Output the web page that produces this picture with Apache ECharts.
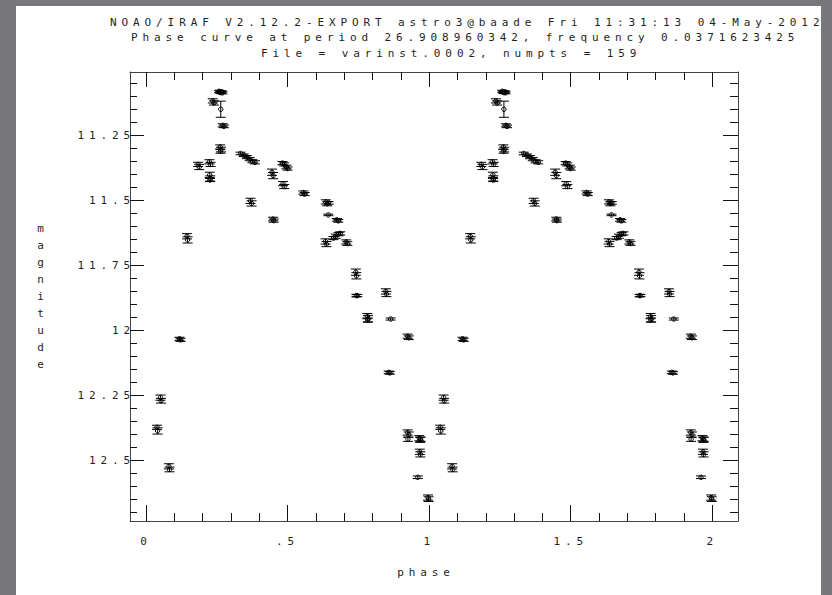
<!DOCTYPE html>
<html>
<head>
<meta charset="utf-8">
<script src="https://cdn.jsdelivr.net/npm/echarts@6/dist/echarts.min.js"></script>
<style>
  html, body { margin: 0; padding: 0; background: #78777b; }
  #paper { position: absolute; left: 16px; top: 6px; width: 805px; height: 589px; background: #ffffff; }
  #chart { position: absolute; left: 0; top: 0; width: 832px; height: 595px; }
  #chart svg text { letter-spacing: 4.9px; }
</style>
</head>
<body>
<div id="paper"></div>
<div id="chart"></div>
<script>
// ---- data: one cycle of the phase curve (phase, magnitude, error) ----
const phase = [
  0.258, 0.261, 0.264, 0.267, 0.270,
  0.236, 0.240,
  0.264,
  0.271, 0.275,
  0.262, 0.265, 0.263,
  0.184, 0.188,
  0.224, 0.228,
  0.225, 0.227, 0.226,
  0.334, 0.345, 0.356, 0.366, 0.376, 0.385,
  0.445, 0.449,
  0.482, 0.488, 0.496, 0.500,
  0.484, 0.488,
  0.369, 0.373,
  0.449, 0.451,
  0.145, 0.147,
  0.118, 0.122,
  0.051, 0.053,
  0.039, 0.041,
  0.081, 0.083,
  0.556, 0.560,
  0.635, 0.640, 0.645,
  0.644,
  0.674, 0.679,
  0.634, 0.637,
  0.662, 0.670, 0.680, 0.686,
  0.707, 0.711,
  0.741, 0.743,
  0.743, 0.746,
  0.847, 0.849,
  0.782, 0.784, 0.783,
  0.864,
  0.924, 0.928,
  0.857, 0.861,
  0.924, 0.928, 0.925,
  0.965, 0.970, 0.968,
  0.967, 0.969,
  0.960,
  0.996, 0.998
];
const mag = [
  11.081, 11.084, 11.086, 11.083, 11.087,
  11.118, 11.126,
  11.150,
  11.212, 11.216,
  11.295, 11.305, 11.312,
  11.362, 11.372,
  11.352, 11.362,
  11.402, 11.416, 11.422,
  11.320, 11.327, 11.334, 11.342, 11.350, 11.354,
  11.392, 11.405,
  11.357, 11.362, 11.372, 11.378,
  11.436, 11.447,
  11.502, 11.512,
  11.572, 11.578,
  11.638, 11.652,
  12.032, 12.036,
  12.258, 12.270,
  12.372, 12.386,
  12.522, 12.534,
  11.470, 11.476,
  11.506, 11.513, 11.510,
  11.556,
  11.575, 11.579,
  11.658, 11.668,
  11.645, 11.638, 11.630, 11.627,
  11.660, 11.666,
  11.776, 11.790,
  11.866, 11.866,
  11.850, 11.860,
  11.945, 11.955, 11.960,
  11.956,
  12.022, 12.028,
  12.161, 12.163,
  12.392, 12.400, 12.418,
  12.414, 12.418, 12.420,
  12.466, 12.476,
  12.564,
  12.642, 12.648
];
const magErr = [
  0.004, 0.004, 0.004, 0.004, 0.004,
  0.008, 0.008,
  0.031,
  0.006, 0.005,
  0.008, 0.009, 0.007,
  0.008, 0.010,
  0.008, 0.008,
  0.010, 0.010, 0.006,
  0.005, 0.005, 0.006, 0.006, 0.006, 0.006,
  0.012, 0.012,
  0.006, 0.006, 0.007, 0.006,
  0.008, 0.008,
  0.010, 0.010,
  0.007, 0.006,
  0.010, 0.012,
  0.006, 0.006,
  0.010, 0.009,
  0.008, 0.012,
  0.010, 0.009,
  0.006, 0.006,
  0.008, 0.008, 0.005,
  0.003,
  0.005, 0.005,
  0.010, 0.010,
  0.006, 0.008, 0.006, 0.006,
  0.008, 0.007,
  0.012, 0.012,
  0.005, 0.004,
  0.010, 0.010,
  0.010, 0.012, 0.008,
  0.004,
  0.008, 0.007,
  0.005, 0.005,
  0.010, 0.010, 0.008,
  0.010, 0.008, 0.010,
  0.010, 0.010,
  0.005,
  0.010, 0.009
];
const cycles = [0, 1];

// ---- axes ----
const xMajor = [0, 0.5, 1, 1.5, 2];
const xMajorLabels = ['0', '.5', '1', '1.5', '2'];
const xMinor = [0.1, 0.2, 0.3, 0.4, 0.6, 0.7, 0.8, 0.9, 1.1, 1.2, 1.3, 1.4, 1.6, 1.7, 1.8, 1.9];
const yMajor = [11.25, 11.5, 11.75, 12, 12.25, 12.5];
const yMajorLabels = ['11.25', '11.5', '11.75', '12', '12.25', '12.5'];
const yMinor = [11.05, 11.1, 11.15, 11.2, 11.3, 11.35, 11.4, 11.45, 11.55, 11.6, 11.65, 11.7,
  11.8, 11.85, 11.9, 11.95, 12.05, 12.1, 12.15, 12.2, 12.3, 12.35, 12.4, 12.45,
  12.55, 12.6, 12.65, 12.7];
const xRange = [-0.0565, 2.0907];
const yRange = [11.007, 12.732];

const titleLines = [
  'NOAO/IRAF V2.12.2-EXPORT astro3@baade Fri 11:31:13 04-May-2012',
  'Phase curve at period 26.908960342, frequency 0.0371623425',
  'File = varinst.0002, numpts = 159'
];
const xName = 'phase';
const yName = 'magnitude';

// ---- build ----
const FONT = 'DejaVu Sans Mono';
const TXT = '#1e1e1e';
const points = [];
cycles.forEach(c => {
  phase.forEach((p, i) => points.push([p + c, mag[i], magErr[i]]));
});

function xAxisDef(pos, ticks, len, showLine, labels) {
  return {
    type: 'value', position: pos, min: xRange[0], max: xRange[1],
    axisLine: { show: showLine, onZero: false, lineStyle: { color: '#444', width: 1 } },
    axisTick: { show: true, inside: true, length: len, customValues: ticks, lineStyle: { color: '#111', width: 1 } },
    axisLabel: labels ? {
      show: true, customValues: ticks, margin: 15,
      fontFamily: FONT, fontSize: 11, color: TXT,
      formatter: v => labels[ticks.indexOf(v)]
    } : { show: false },
    splitLine: { show: false }
  };
}
function yAxisDef(pos, ticks, len, showLine, labels) {
  return {
    type: 'value', position: pos, min: yRange[0], max: yRange[1], inverse: true,
    axisLine: { show: showLine, onZero: false, lineStyle: { color: '#444', width: 1 } },
    axisTick: { show: true, inside: true, length: len, customValues: ticks, lineStyle: { color: '#111', width: 1 } },
    axisLabel: labels ? {
      show: true, customValues: ticks, margin: -5,
      fontFamily: FONT, fontSize: 11, color: TXT,
      formatter: v => labels[ticks.indexOf(v)]
    } : { show: false },
    splitLine: { show: false }
  };
}

const chart = echarts.init(document.getElementById('chart'), null, { renderer: 'svg' });
chart.setOption({
  backgroundColor: 'transparent',
  animation: false,
  grid: { left: 130, right: 94, top: 72, bottom: 74, containLabel: false },
  xAxis: [
    xAxisDef('bottom', xMajor, 16, true, xMajorLabels),
    xAxisDef('bottom', xMinor, 8, false, null),
    xAxisDef('top', xMajor, 15, true, null),
    xAxisDef('top', xMinor, 8, false, null)
  ],
  yAxis: [
    yAxisDef('left', yMajor, 14, true, yMajorLabels),
    yAxisDef('left', yMinor, 7, false, null),
    yAxisDef('right', yMajor, 15, true, null),
    yAxisDef('right', yMinor, 8, false, null)
  ],
  graphic: [
    { type: 'text', left: 110, top: 17, style: { text: titleLines[0], font: '11px ' + FONT, fill: TXT } },
    { type: 'text', left: 131, top: 32, style: { text: titleLines[1], font: '11px ' + FONT, fill: TXT } },
    { type: 'text', left: 261, top: 48, style: { text: titleLines[2], font: '11px ' + FONT, fill: TXT } },
    { type: 'text', x: 426, y: 572, style: { text: xName, font: '11px ' + FONT, fill: TXT, align: 'center', verticalAlign: 'middle' } },
    { type: 'text', x: 43, y: 296, style: { text: yName.split('').join('\n'), font: '11px ' + FONT, fill: TXT, align: 'center', verticalAlign: 'middle', lineHeight: 17 } }
  ],
  series: [{
    type: 'custom',
    xAxisIndex: 0, yAxisIndex: 0,
    data: points,
    encode: { x: 0, y: 1 },
    renderItem: function (params, api) {
      const x = api.value(0), y = api.value(1), e = api.value(2);
      const c = api.coord([x, y]);
      const t = api.coord([x, y - e]);
      const b = api.coord([x, y + e]);
      const w = 5;
      const st = { stroke: '#000', lineWidth: 1, fill: null };
      return {
        type: 'group',
        children: [
          { type: 'line', shape: { x1: c[0], y1: t[1], x2: c[0], y2: b[1] }, style: st },
          { type: 'line', shape: { x1: c[0] - w, y1: t[1], x2: c[0] + w, y2: t[1] }, style: st },
          { type: 'line', shape: { x1: c[0] - w, y1: b[1], x2: c[0] + w, y2: b[1] }, style: st },
          { type: 'circle', shape: { cx: c[0], cy: c[1], r: 2.2 }, style: { stroke: '#000', lineWidth: 1, fill: 'none' } }
        ]
      };
    }
  }]
});
</script>
</body>
</html>
